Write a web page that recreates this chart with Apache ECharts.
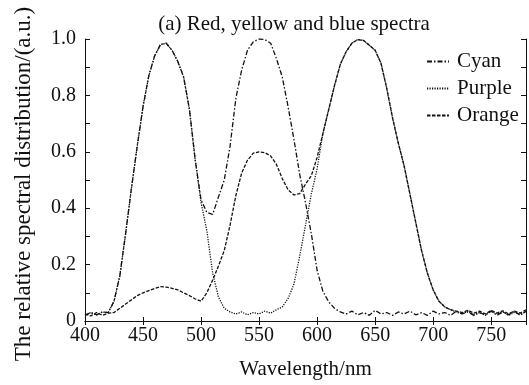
<!DOCTYPE html>
<html>
<head>
<meta charset="utf-8">
<script src="https://cdn.jsdelivr.net/npm/echarts@6/dist/echarts.min.js"></script>
<style>
  html, body { margin: 0; padding: 0; background: #fff; }
  #chart { width: 529px; height: 385px; }
</style>
</head>
<body>
<div id="chart"></div>
<script>
// wavelength grid (nm)
const wavelengths = [400,405,410,415,420,425,430,435,440,445,450,455,460,465,470,475,480,485,490,495,
  500,505,510,515,520,525,530,535,540,545,550,555,560,565,570,575,580,585,590,595,
  600,605,610,615,620,625,630,635,640,645,650,655,660,665,670,675,680,685,690,695,
  700,705,710,715,720,725,730,735,740,745,750,755,760,765,770,775,780]

// blue + green
const cyan = [0.020,0.030,0.022,0.032,0.030,0.070,0.160,0.310,0.470,0.620,0.760,0.870,0.940,0.980,0.985,0.960,0.920,0.865,0.750,0.570,
  0.430,0.385,0.378,0.440,0.500,0.620,0.790,0.890,0.960,0.990,1.000,0.998,0.985,0.930,0.865,0.760,0.645,0.520,0.420,0.310,
  0.180,0.105,0.068,0.045,0.032,0.025,0.035,0.022,0.030,0.020,0.038,0.025,0.030,0.020,0.032,0.025,0.035,0.022,0.030,0.020,
  0.035,0.025,0.030,0.020,0.035,0.025,0.032,0.020,0.030,0.022,0.035,0.020,0.032,0.022,0.035,0.020,0.035]

// blue + red
const purple = [0.020,0.030,0.022,0.032,0.030,0.070,0.160,0.310,0.470,0.620,0.760,0.870,0.940,0.980,0.985,0.960,0.920,0.865,0.750,0.570,
  0.420,0.320,0.170,0.085,0.045,0.032,0.025,0.032,0.022,0.030,0.025,0.035,0.028,0.040,0.050,0.080,0.130,0.230,0.340,0.450,
  0.540,0.665,0.750,0.835,0.910,0.955,0.985,0.998,0.995,0.978,0.960,0.915,0.825,0.720,0.630,0.550,0.450,0.350,0.250,0.170,
  0.110,0.070,0.050,0.040,0.032,0.025,0.035,0.022,0.030,0.020,0.035,0.025,0.032,0.020,0.030,0.025,0.032]

// green + red
const orange = [0.025,0.018,0.030,0.020,0.028,0.030,0.045,0.060,0.075,0.090,0.100,0.108,0.115,0.122,0.120,0.116,0.110,0.100,0.090,0.078,
  0.070,0.100,0.145,0.195,0.250,0.340,0.445,0.525,0.570,0.595,0.600,0.597,0.585,0.555,0.505,0.465,0.447,0.452,0.485,0.515,
  0.580,0.665,0.750,0.835,0.910,0.955,0.985,0.998,0.995,0.978,0.960,0.915,0.825,0.720,0.630,0.550,0.450,0.350,0.250,0.170,
  0.110,0.070,0.050,0.040,0.035,0.030,0.038,0.028,0.035,0.025,0.038,0.028,0.036,0.025,0.035,0.028,0.040]

const font = '"Liberation Serif", "Times New Roman", serif'
const ink = '#111'

const chart = echarts.init(document.getElementById('chart'))

const pairs = (vals) => wavelengths.map((w, i) => [w, vals[i]])

const xBase = {
  type: 'value', min: 400, max: 780, interval: 50,
  axisLine: { lineStyle: { color: ink, width: 1 } },
  axisTick: { inside: true, length: 4, lineStyle: { color: ink } },
  splitLine: { show: false },
}
const yBase = {
  type: 'value', min: 0, max: 1, interval: 0.2,
  axisLine: { show: true, lineStyle: { color: ink, width: 1 } },
  axisTick: { inside: true, length: 5, lineStyle: { color: ink } },
  minorTick: { show: true, splitNumber: 2, length: 5, lineStyle: { color: ink } },
  splitLine: { show: false },
}

const line = (name, vals, dash) => ({
  name, type: 'line', data: pairs(vals),
  symbol: 'none', smooth: false, animation: false,
  lineStyle: { color: ink, width: 1.3, type: dash },
  itemStyle: { color: ink },
})

chart.setOption({
  backgroundColor: '#fff',
  animation: false,
  title: {
    text: '(a) Red, yellow and blue spectra',
    left: 289, top: 9, textAlign: 'center',
    textStyle: { fontFamily: font, fontSize: 21, fontWeight: 'normal', color: ink },
  },
  legend: {
    orient: 'vertical', left: 426, top: 51,
    itemWidth: 22, itemHeight: 12, itemGap: 6, padding: 0,
    itemStyle: { opacity: 0 },
    textStyle: { fontFamily: font, fontSize: 21, color: ink, padding: [0, 0, 0, 3] },
    data: ['Cyan', 'Purple', 'Orange'],
  },
  grid: { left: 85, right: 3, top: 39, bottom: 60 },
  xAxis: [
    {
      ...xBase, position: 'bottom',
      name: 'Wavelength/nm', nameLocation: 'middle', nameGap: 38,
      nameTextStyle: { fontFamily: font, fontSize: 21, color: ink },
      axisLabel: { fontFamily: font, fontSize: 20, color: ink, margin: 5, showMaxLabel: false },
    },
    { ...xBase, position: 'top', axisLabel: { show: false } },
  ],
  yAxis: [
    {
      ...yBase, position: 'left',
      name: 'The relative spectral distribution/(a.u.)', nameLocation: 'middle', nameGap: 50,
      nameTextStyle: { fontFamily: font, fontSize: 23, color: ink, padding: [0, 8, 0, 0] },
      axisLabel: {
        fontFamily: font, fontSize: 20, color: ink, margin: 9,
        formatter: (v) => (v === 0 ? '0' : v.toFixed(1)),
      },
    },
    { ...yBase, position: 'right', axisLabel: { show: false } },
  ],
  series: [
    line('Cyan', cyan, [5, 2, 1.5, 2]),
    line('Purple', purple, [1.2, 1.3]),
    line('Orange', orange, [3.5, 1.5]),
  ],
})
</script>
</body>
</html>
